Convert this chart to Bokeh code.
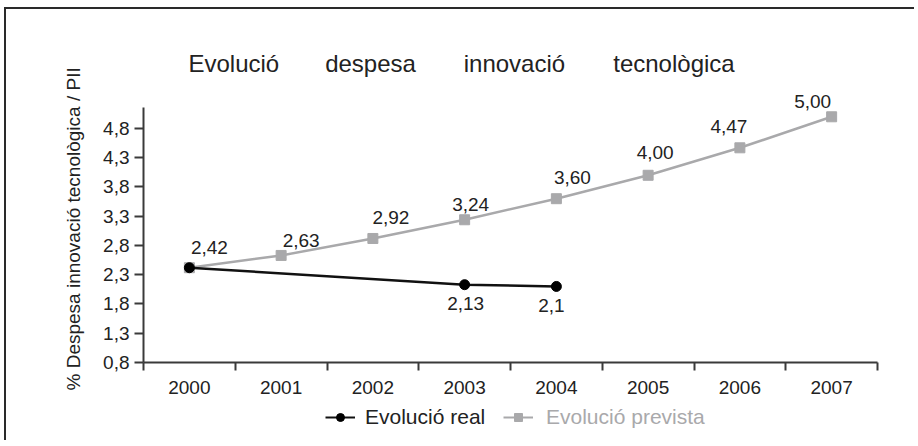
from bokeh.plotting import figure
from bokeh.layouts import column
from bokeh.models import (ColumnDataSource, FixedTicker, CustomJSTickFormatter, Label,
                          Legend, LegendItem, Range1d, Title)
from bokeh.core.properties import value
from bokeh.embed import file_html
from bokeh.resources import INLINE

# ---- data ----
years = ["2000", "2001", "2002", "2003", "2004", "2005", "2006", "2007"]
prevista = [2.42, 2.63, 2.92, 3.24, 3.60, 4.00, 4.47, 5.00]
real = [2.42, None, None, 2.13, 2.1, None, None, None]
y_ticks = [0.8, 1.3, 1.8, 2.3, 2.8, 3.3, 3.8, 4.3, 4.8]
title_words = ["Evolució", "despesa", "innovació", "tecnològica"]
y_label = "% Despesa innovació tecnològica / PII"
series_names = ["Evolució real", "Evolució prevista"]

# ---- styles ----
FONT = "Liberation Sans"
TXT = "#222222"
GREY = "#a9a9ab"
BLACK = "#111111"
AX = "#3a3a3a"
prev_dx = [20, 20, 18, 6, 16, 7, -11, -19]
prev_dy = [-20, -15, -21, -15, -21, -23, -21, -15]
real_dx = [1, -5]
real_dy = [19, 19]
Y_AXIS_TOP = 5.16
Y_VIEW_TOP = 6.834

xs = [i + 0.5 for i in range(len(years))]
prev_src = ColumnDataSource(dict(
    x=xs, y=prevista,
    lab=[f"{v:.2f}".replace(".", ",") for v in prevista],
    dx=prev_dx, dy=prev_dy))

rx = [xs[i] for i, v in enumerate(real) if v is not None]
ry = [v for v in real if v is not None]
real_src = ColumnDataSource(dict(x=rx, y=ry))
real_lab_src = ColumnDataSource(dict(
    x=rx[1:], y=ry[1:], lab=[str(v).replace(".", ",") for v in ry[1:]],
    dx=real_dx, dy=real_dy))

p = figure(width=908, height=391, output_backend="svg", toolbar_location=None,
           x_range=Range1d(0, len(years)), y_range=Range1d(y_ticks[0], Y_VIEW_TOP),
           min_border_left=137, min_border_right=37, min_border_top=0,
           min_border_bottom=38)
p.outline_line_color = None
p.xgrid.grid_line_color = None
p.ygrid.grid_line_color = None

# x axis
xa = p.xaxis[0]
xa.ticker = FixedTicker(ticks=xs, minor_ticks=list(range(len(years) + 1)))
xa.major_label_overrides = {x: y for x, y in zip(xs, years)}
xa.major_tick_line_color = None
xa.minor_tick_line_color = AX
xa.minor_tick_line_width = 2
xa.minor_tick_out = 8
xa.minor_tick_in = 0
xa.axis_line_color = AX
xa.axis_line_width = 2
xa.major_label_text_font = FONT
xa.major_label_text_font_size = "19px"
xa.major_label_text_color = TXT
xa.major_label_standoff = 10

# y axis
ya = p.yaxis[0]
ya.ticker = FixedTicker(ticks=y_ticks, minor_ticks=[])
ya.bounds = (y_ticks[0], Y_AXIS_TOP)
ya.formatter = CustomJSTickFormatter(code="return tick.toFixed(1).replace('.', ',');")
ya.major_tick_line_color = AX
ya.major_tick_line_width = 2
ya.major_tick_out = 9
ya.major_tick_in = 0
ya.axis_line_color = AX
ya.axis_line_width = 2
ya.major_label_text_font = FONT
ya.major_label_text_font_size = "19px"
ya.major_label_text_color = TXT
ya.major_label_standoff = 5

# y axis title (rotated, in the left panel)
p.add_layout(Title(text=y_label, align="left", offset=-28, standoff=34,
                   text_font=FONT, text_font_size="19px", text_font_style="normal",
                   text_color=TXT), "left")

# series
p.line("x", "y", source=prev_src, line_color=GREY, line_width=2.5)
p.scatter("x", "y", source=prev_src, marker="square", size=10,
          fill_color=GREY, line_color=GREY)
p.line("x", "y", source=real_src, line_color=BLACK, line_width=2.5)
p.scatter("x", "y", source=real_src, marker="circle", size=10,
          fill_color="#000000", line_color="#000000")

p.text("x", "y", text="lab", source=prev_src, x_offset="dx", y_offset="dy",
       text_align="center", text_baseline="middle", text_font=value(FONT),
       text_font_size="19px", text_color=TXT)
p.text("x", "y", text="lab", source=real_lab_src, x_offset="dx", y_offset="dy",
       text_align="center", text_baseline="middle", text_font=value(FONT),
       text_font_size="19px", text_color=TXT)

# title words
for w, tx in zip(title_words, [0.49, 1.98, 3.49, 5.12]):
    p.add_layout(Label(x=tx, y=5.91, text=w, text_font=FONT, text_font_size="24px",
                       text_color=TXT, text_align="left", text_baseline="middle"))

# ---- legend strip ----
lf = figure(width=908, height=40, output_backend="svg", toolbar_location=None,
            x_range=Range1d(0, 1), y_range=Range1d(0, 1),
            x_axis_type=None, y_axis_type=None, min_border=0)
lf.outline_line_color = None
lf.xgrid.grid_line_color = None
lf.ygrid.grid_line_color = None
off = dict(x=[-5], y=[-5])  # legend-only renderers, kept outside the view
lbl = lf.line("x", "y", source=ColumnDataSource(off), line_color=BLACK, line_width=2)
lbs = lf.scatter("x", "y", source=ColumnDataSource(off), marker="circle", size=8,
                 fill_color="#000000", line_color="#000000")
lgl = lf.line("x", "y", source=ColumnDataSource(off), line_color=GREY, line_width=2)
lgs = lf.scatter("x", "y", source=ColumnDataSource(off), marker="square", size=8,
                 fill_color=GREY, line_color=GREY)


def mk_legend(label, rends, color, loc, standoff):
    lg = Legend(items=[LegendItem(label=label, renderers=rends)], location=loc,
                orientation="horizontal", padding=0, margin=0, spacing=0,
                glyph_width=30, glyph_height=20, label_height=20,
                label_standoff=standoff,
                border_line_color=None, background_fill_alpha=0,
                label_text_font=FONT, label_text_font_size="21px",
                label_text_color=color)
    lf.add_layout(lg, "center")


mk_legend(series_names[0], [lbl, lbs], TXT, (182, 11), 10)
mk_legend(series_names[1], [lgl, lgs], GREY, (360, 11), 13)

layout = column(p, lf, spacing=0)
layout.styles = {"border-left": "2px solid #2a2a2a", "border-top": "2px solid #2a2a2a",
                 "margin-left": "4px", "margin-top": "7px"}

open("out.html", "w").write(file_html(layout, INLINE))
